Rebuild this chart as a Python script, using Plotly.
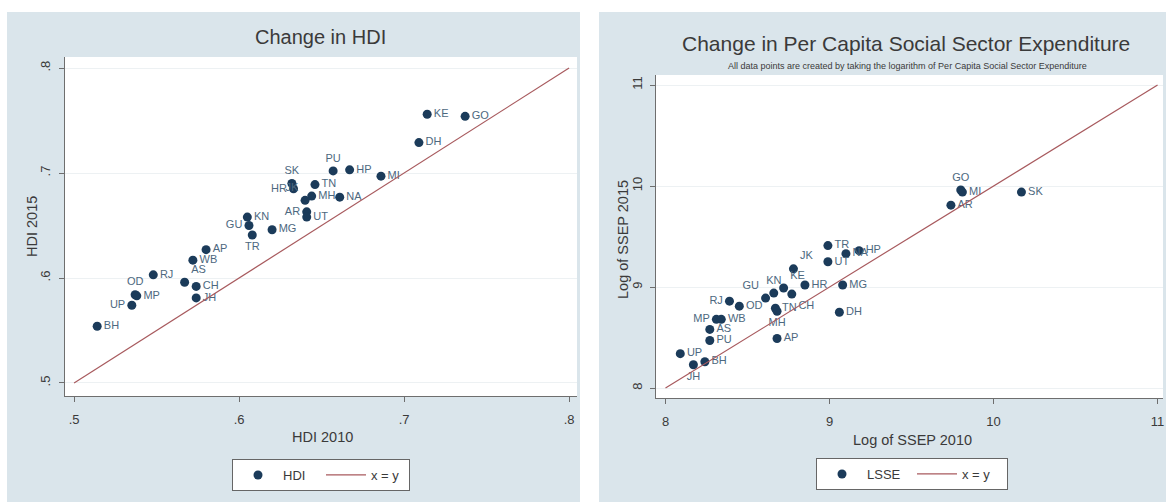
import plotly.graph_objects as go

W, H = 1166, 502

# ---- Panel 1: Human Development Index, 2010 vs 2015 ----
hdi_states = ["KE", "GO", "DH", "PU", "HP", "MI", "SK", "HR", "TN", "MH", "JK", "NA",
              "AR", "UT", "KN", "GU", "TR", "MG", "AP", "WB", "RJ", "AS", "CH", "JH",
              "OD", "MP", "UP", "BH"]
hdi_2010 = [0.714, 0.737, 0.709, 0.657, 0.667, 0.686, 0.632, 0.633, 0.646, 0.644, 0.640, 0.661,
            0.641, 0.641, 0.605, 0.606, 0.608, 0.620, 0.580, 0.572, 0.548, 0.567, 0.574, 0.574,
            0.537, 0.538, 0.535, 0.514]
hdi_2015 = [0.756, 0.754, 0.729, 0.702, 0.703, 0.697, 0.690, 0.685, 0.689, 0.678, 0.674, 0.677,
            0.663, 0.658, 0.658, 0.650, 0.641, 0.646, 0.627, 0.617, 0.603, 0.596, 0.592, 0.581,
            0.584, 0.583, 0.574, 0.554]
hdi_label_pos = ["middle right", "middle right", "middle right", "top center", "middle right",
                 "middle right", "top center", "middle left", "middle right", "middle right",
                 "top left", "middle right", "middle left", "middle right", "middle right",
                 "middle left", "bottom center", "middle right", "middle right", "middle right",
                 "middle right", "top right", "middle right", "middle right", "top center",
                 "middle right", "middle left", "middle right"]
hdi_ticks = [0.5, 0.6, 0.7, 0.8]
hdi_tick_text = [".5", ".6", ".7", ".8"]
hdi_diag = [0.5, 0.8]

# ---- Panel 2: log of per capita social sector expenditure, 2010 vs 2015 ----
ssep_states = ["SK", "GO", "MI", "AR", "TR", "UT", "HP", "NA", "JK", "HR", "MG", "DH",
               "GU", "KN", "KE", "CH", "RJ", "OD", "TN", "MH", "MP", "WB", "AS", "PU",
               "AP", "UP", "BH", "JH"]
lssep_2010 = [10.17, 9.80, 9.81, 9.74, 8.99, 8.99, 9.18, 9.10, 8.78, 8.85, 9.08, 9.06,
              8.61, 8.66, 8.72, 8.77, 8.39, 8.45, 8.67, 8.68, 8.31, 8.34, 8.27, 8.27,
              8.68, 8.09, 8.24, 8.17]
lssep_2015 = [9.94, 9.96, 9.94, 9.81, 9.41, 9.25, 9.36, 9.33, 9.18, 9.02, 9.02, 8.75,
              8.89, 8.94, 8.99, 8.93, 8.86, 8.81, 8.79, 8.76, 8.68, 8.68, 8.58, 8.47,
              8.49, 8.34, 8.26, 8.23]
ssep_label_pos = ["middle right", "top center", "middle right", "middle right", "middle right",
                  "middle right", "middle right", "middle right", "top right", "middle right",
                  "middle right", "middle right", "top left", "top center", "top right",
                  "bottom right", "middle left", "middle right", "middle right", "bottom center",
                  "middle left", "middle right", "middle right", "middle right", "middle right",
                  "middle right", "middle right", "bottom center"]
ssep_ticks = [8, 9, 10, 11]
ssep_tick_text = ["8", "9", "10", "11"]
ssep_diag = [8, 11]

# ---- styling ----
FONT = "Liberation Sans, Arial, sans-serif"
NAVY = "#1b3b5a"
LABEL_C = "#4d6880"
LINE_C = "#a85a5e"
PANEL_BG = "#dae5eb"
AXIS_C = "#6e6e6e"
TEXT_C = "#3a3a3a"
GRID_C = "#edf1f3"


def fx(p):
    return p / W


def fy(p):
    return 1 - p / H


fig = go.Figure()

fig.add_trace(go.Scatter(
    x=hdi_2010, y=hdi_2015, text=hdi_states, mode="markers+text",
    textposition=hdi_label_pos, name="HDI",
    marker=dict(color=NAVY, size=9),
    textfont=dict(family=FONT, size=11, color=LABEL_C),
    xaxis="x", yaxis="y", legend="legend"))
fig.add_trace(go.Scatter(
    x=hdi_diag, y=hdi_diag, mode="lines", name="x = y",
    line=dict(color=LINE_C, width=1.2),
    xaxis="x", yaxis="y", legend="legend"))

fig.add_trace(go.Scatter(
    x=lssep_2010, y=lssep_2015, text=ssep_states, mode="markers+text",
    textposition=ssep_label_pos, name="LSSE",
    marker=dict(color=NAVY, size=9),
    textfont=dict(family=FONT, size=11, color=LABEL_C),
    xaxis="x2", yaxis="y2", legend="legend2"))
fig.add_trace(go.Scatter(
    x=ssep_diag, y=ssep_diag, mode="lines", name="x = y",
    line=dict(color=LINE_C, width=1.2),
    xaxis="x2", yaxis="y2", legend="legend2"))

axis_common = dict(
    showline=True, linecolor=AXIS_C, linewidth=1, ticks="outside", ticklen=5,
    tickcolor=AXIS_C, tickwidth=1, zeroline=False, mirror=False,
    tickfont=dict(family=FONT, size=13, color=TEXT_C),
)

legend_common = dict(
    orientation="h", yanchor="top", xanchor="center",
    bgcolor="white", bordercolor="#666666", borderwidth=1,
    font=dict(family=FONT, size=13, color=TEXT_C),
    itemwidth=40, entrywidthmode="pixels",
)

fig.update_layout(
    width=W, height=H,
    margin=dict(l=0, r=0, t=0, b=0),
    paper_bgcolor="white",
    plot_bgcolor="rgba(0,0,0,0)",
    font=dict(family=FONT, color=TEXT_C),
    xaxis=dict(domain=[fx(65), fx(577)], range=[0.4945, 0.8048], anchor="y",
               tickvals=hdi_ticks, ticktext=hdi_tick_text, showgrid=False,
               ticklabelstandoff=6, **axis_common),
    yaxis=dict(domain=[fy(396), fy(57)], range=[0.4876, 0.8105], anchor="x",
               tickvals=hdi_ticks, ticktext=hdi_tick_text, tickangle=-90,
               showgrid=True, gridcolor=GRID_C, gridwidth=1,
               ticklabelstandoff=4, **axis_common),
    xaxis2=dict(domain=[fx(656), fx(1163)], range=[7.942, 11.033], anchor="y2",
                tickvals=ssep_ticks, ticktext=ssep_tick_text, showgrid=False,
                ticklabelstandoff=6, **axis_common),
    yaxis2=dict(domain=[fy(398), fy(75)], range=[7.901, 11.099], anchor="x2",
                tickvals=ssep_ticks, ticktext=ssep_tick_text, tickangle=-90,
                showgrid=True, gridcolor=GRID_C, gridwidth=1,
                ticklabelstandoff=3, **axis_common),
    legend=dict(x=fx(321), y=fy(459), entrywidth=33, **legend_common),
    legend2=dict(x=fx(912), y=fy(458), entrywidth=40, **legend_common),
    showlegend=True,
)

# Panel backgrounds, then white plot regions on top of them
shapes = [
    dict(type="rect", xref="paper", yref="paper", x0=fx(7), x1=fx(580), y0=0, y1=fy(12),
         fillcolor=PANEL_BG, line=dict(width=0), layer="below"),
    dict(type="rect", xref="paper", yref="paper", x0=fx(599), x1=1, y0=0, y1=fy(12),
         fillcolor=PANEL_BG, line=dict(width=0), layer="below"),
    dict(type="rect", xref="x domain", yref="y domain", x0=0, x1=1, y0=0, y1=1,
         fillcolor="white", line=dict(width=0), layer="below"),
    dict(type="rect", xref="x2 domain", yref="y2 domain", x0=0, x1=1, y0=0, y1=1,
         fillcolor="white", line=dict(width=0), layer="below"),
]
fig.update_layout(shapes=shapes)

annotations = [
    dict(text="Change in HDI", x=fx(320), y=fy(37), font=dict(size=20)),
    dict(text="Change in Per Capita Social Sector Expenditure", x=fx(906), y=fy(43),
         font=dict(size=21)),
    dict(text="All data points are created by taking the logarithm of Per Capita Social Sector Expenditure",
         x=fx(907), y=fy(66), font=dict(size=9)),
    dict(text="HDI 2010", x=fx(322), y=fy(437), font=dict(size=14.5)),
    dict(text="HDI 2015", x=fx(32), y=fy(227), textangle=-90, font=dict(size=14.5)),
    dict(text="Log of SSEP 2010", x=fx(912), y=fy(440), font=dict(size=14.5)),
    dict(text="Log of SSEP 2015", x=fx(623), y=fy(240), textangle=-90, font=dict(size=14.5)),
]
for a in annotations:
    a.update(xref="paper", yref="paper", showarrow=False, xanchor="center", yanchor="middle")
    a["font"].update(family=FONT, color=TEXT_C)
fig.update_layout(annotations=annotations)

fig.write_html("out.html")
